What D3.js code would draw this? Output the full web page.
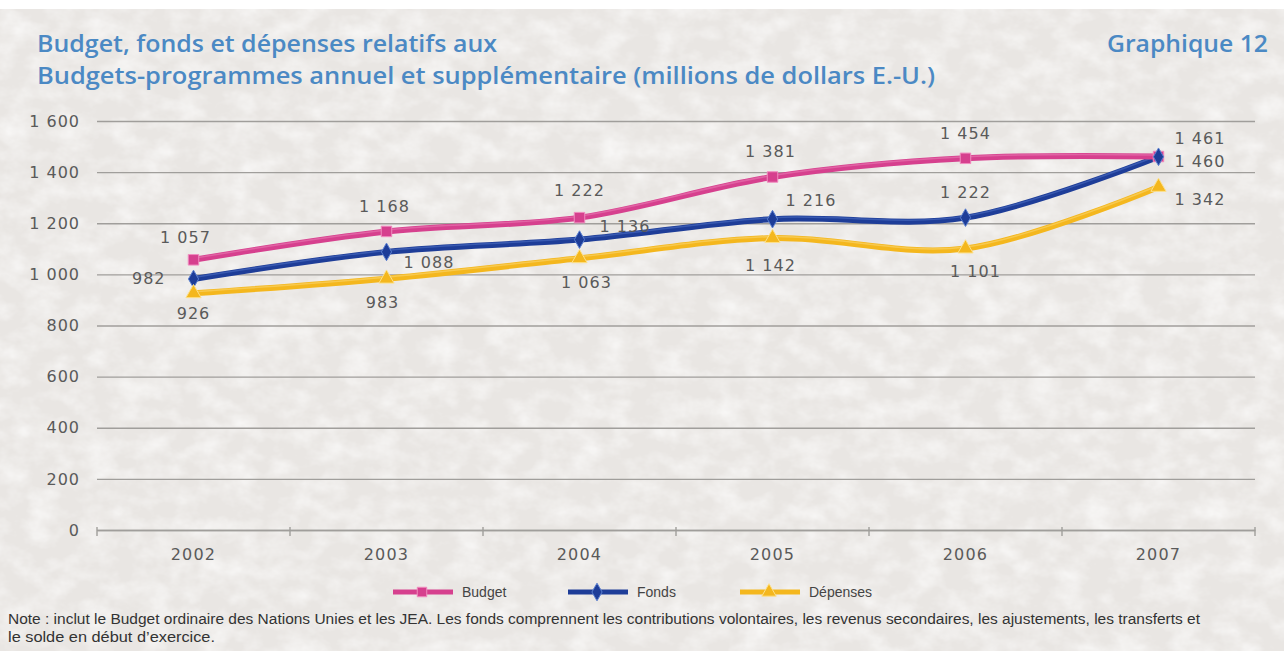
<!DOCTYPE html>
<html>
<head>
<meta charset="utf-8">
<script src="https://cdn.jsdelivr.net/npm/d3@7"></script>
<style>
  body { margin: 0; background: #fff; }
  svg { display: block; }
</style>
</head>
<body>
<svg id="chart"></svg>
<script>
const years = ["2002", "2003", "2004", "2005", "2006", "2007"];
const budget = [1057, 1168, 1222, 1381, 1454, 1461];
const fonds = [982, 1088, 1136, 1216, 1222, 1460];
const depenses = [926, 983, 1063, 1142, 1101, 1342];
const yTicks = [0, 200, 400, 600, 800, 1000, 1200, 1400, 1600];
const seriesNames = ["Budget", "Fonds", "Dépenses"];

const W = 1284, H = 651;
const margin = {top: 121, right: 29, bottom: 121, left: 97};

const svg = d3.select("#chart").attr("width", W).attr("height", H);

// paper texture
const defs = svg.append("defs");
const f = defs.append("filter").attr("id", "paper")
    .attr("x", 0).attr("y", 0).attr("width", "100%").attr("height", "100%");
f.append("feTurbulence").attr("type", "fractalNoise")
    .attr("baseFrequency", "0.035 0.05").attr("numOctaves", 4).attr("seed", 3);
f.append("feColorMatrix").attr("type", "matrix")
    .attr("values", "0 0 0 0 1  0 0 0 0 1  0 0 0 0 1  1.2 0 0 0 -0.45");

svg.append("rect").attr("x", 0).attr("y", 9).attr("width", W).attr("height", H - 9)
    .attr("fill", "#e9e6e3");
svg.append("rect").attr("x", 0).attr("y", 9).attr("width", W).attr("height", H - 9)
    .attr("filter", "url(#paper)");

const x = d3.scaleBand().domain(years).range([margin.left, W - margin.right]);
const y = d3.scaleLinear().domain([0, 1600]).range([H - margin.bottom, margin.top]);
const cx = d => x(d) + x.bandwidth() / 2;

const fmt = d3.formatLocale({decimal: ",", thousands: " ", grouping: [3], currency: ["", ""]}).format(",d");

// title
const title = svg.append("g").attr("font-family", "'Open Sans', sans-serif")
    .attr("font-weight", 600).attr("font-size", 24).attr("fill", "#4b89c4");
title.append("text").attr("x", 37).attr("y", 52).attr("textLength", 460).attr("lengthAdjust", "spacingAndGlyphs")
    .text("Budget, fonds et dépenses relatifs aux");
title.append("text").attr("x", 37).attr("y", 84).attr("textLength", 898).attr("lengthAdjust", "spacingAndGlyphs")
    .text("Budgets-programmes annuel et supplémentaire (millions de dollars E.-U.)");
title.append("text").attr("x", 1107).attr("y", 52).attr("textLength", 161).attr("lengthAdjust", "spacingAndGlyphs")
    .text("Graphique 12");

// gridlines + y labels
const yAxis = svg.append("g").attr("transform", `translate(${margin.left},0)`)
    .call(d3.axisLeft(y).tickValues(yTicks).tickFormat(fmt)
        .tickSize(-(W - margin.left - margin.right)).tickPadding(17));
yAxis.select(".domain").remove();
yAxis.selectAll(".tick line").attr("stroke", "#a09e9b").attr("stroke-width", 1.4);
yAxis.selectAll(".tick text").attr("fill", "#5a5a5a").attr("font-size", 16)
    .attr("font-family", "'DejaVu Sans', sans-serif").attr("letter-spacing", 1);

// x axis
const xAxis = svg.append("g").attr("transform", `translate(0,${y(0)})`)
    .call(d3.axisBottom(x).tickSize(0).tickPadding(19));
xAxis.select(".domain").attr("stroke", "#a09e9b").attr("stroke-width", 1.4);
xAxis.selectAll(".tick text").attr("fill", "#5a5a5a").attr("font-size", 16)
    .attr("font-family", "'DejaVu Sans', sans-serif").attr("letter-spacing", 1.2);
const bounds = years.map(d => x(d)).concat([x(years[years.length - 1]) + x.bandwidth()]);
svg.append("g").selectAll("line").data(bounds).join("line")
    .attr("x1", d => d).attr("x2", d => d)
    .attr("y1", y(0) - 3).attr("y2", y(0) + 6)
    .attr("stroke", "#a09e9b").attr("stroke-width", 1.4);

// series
const series = [
  {name: seriesNames[0], values: budget, color: "#d6408e", light: "#f08cbf", symbol: d3.symbolSquare, size: 110},
  {name: seriesNames[1], values: fonds, color: "#1e3d98", light: "#5a7fd0", symbol: d3.symbolDiamond, size: 90},
  {name: seriesNames[2], values: depenses, color: "#f4b71e", light: "#fde08a", symbol: d3.symbolTriangle, size: 100}
];

// label placement (dx, dy, anchor) per point
const labelPos = [
  [[-8, -17, "middle"], [-2, -19, "middle"], [0, -22, "middle"], [-2, -20, "middle"], [0, -19, "middle"], [16, -13, "start"]],
  [[-28, 5, "end"], [17, 16, "start"], [20, -8, "start"], [13, -13, "start"], [0, -20, "middle"], [16, 10, "start"]],
  [[0, 26, "middle"], [-4, 29, "middle"], [7, 30, "middle"], [-2, 33, "middle"], [10, 28, "middle"], [16, 18, "start"]]
];

const line = d3.line().x((d, i) => cx(years[i])).y(d => y(d)).curve(d3.curveCatmullRom.alpha(0.5));

const plot = svg.append("g");
series.slice().reverse().forEach(s => {
  plot.append("path").attr("d", line(s.values)).attr("fill", "none")
      .attr("stroke", s.color).attr("stroke-width", 6).attr("stroke-linecap", "round");
  plot.append("path").attr("d", line(s.values)).attr("fill", "none")
      .attr("stroke", s.light).attr("stroke-width", 1.5).attr("opacity", 0.45)
      .attr("transform", "translate(0,-1.5)");
});
series.forEach(s => {
  plot.append("g").selectAll("path").data(s.values).join("path")
      .attr("transform", (d, i) => `translate(${cx(years[i])},${y(d)})`)
      .attr("d", d3.symbol().type(s.symbol).size(s.size))
      .attr("fill", s.color).attr("stroke", s.light).attr("stroke-width", 1);
});

const labels = svg.append("g").attr("font-family", "'DejaVu Sans', sans-serif")
    .attr("font-size", 16).attr("fill", "#5a5a5a").attr("letter-spacing", 1);
series.forEach((s, k) => {
  labels.append("g").selectAll("text").data(s.values).join("text")
      .attr("x", (d, i) => cx(years[i]) + labelPos[k][i][0])
      .attr("y", (d, i) => y(d) + labelPos[k][i][1])
      .attr("text-anchor", (d, i) => labelPos[k][i][2])
      .text(d => fmt(d));
});

// legend
const legendX = [393, 568, 740];
const legend = svg.append("g").attr("transform", "translate(0,592)");
series.forEach((s, k) => {
  const g = legend.append("g").attr("transform", `translate(${legendX[k]},0)`);
  g.append("line").attr("x1", 0).attr("x2", 60).attr("stroke", s.color).attr("stroke-width", 5);
  g.append("path").attr("transform", "translate(29,0)")
      .attr("d", d3.symbol().type(s.symbol).size(90)).attr("fill", s.color).attr("stroke", s.light);
  g.append("text").attr("x", 69).attr("y", 5).attr("font-family", "'Liberation Sans Narrow', 'Liberation Sans', sans-serif")
      .attr("font-size", 14).attr("fill", "#444").text(s.name);
});

// note
const note = svg.append("g").attr("font-family", "'Liberation Sans Narrow', 'Liberation Sans', sans-serif")
    .attr("font-size", 14).attr("fill", "#333");
note.append("text").attr("x", 8).attr("y", 624).attr("textLength", 1192).attr("lengthAdjust", "spacingAndGlyphs")
    .text("Note : inclut le Budget ordinaire des Nations Unies et les JEA. Les fonds comprennent les contributions volontaires, les revenus secondaires, les ajustements, les transferts et");
note.append("text").attr("x", 8).attr("y", 642).attr("textLength", 207).attr("lengthAdjust", "spacingAndGlyphs")
    .text("le solde en début d’exercice.");
</script>
</body>
</html>
